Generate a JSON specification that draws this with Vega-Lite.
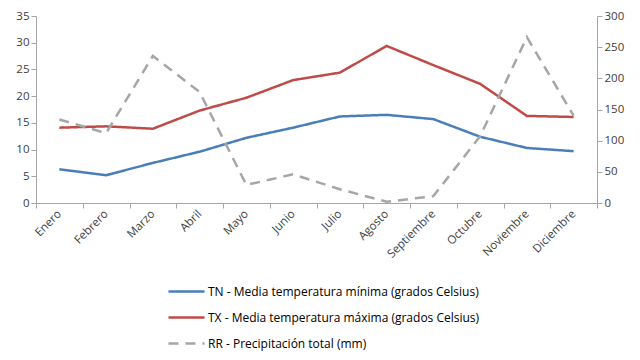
{
  "$schema": "https://vega.github.io/schema/vega-lite/v6.json",
  "autosize": {"type": "none"},
  "width": 561,
  "height": 187,
  "padding": {"left": 36, "top": 16, "right": 43, "bottom": 157},
  "background": "white",
  "config": {
    "view": {"stroke": null},
    "font": "Open Sans",
    "axis": {"grid": false, "domainColor": "#A6A6A6", "tickColor": "#A6A6A6", "labelColor": "#404040", "labelFontSize": 11.5, "labelFont": "Open Sans", "title": null, "tickSize": 5}
  },
  "data": {"values": [
    {"mes": "Enero", "serie": "TN - Media temperatura mínima (grados Celsius)", "valor": 6.3},
    {"mes": "Febrero", "serie": "TN - Media temperatura mínima (grados Celsius)", "valor": 5.2},
    {"mes": "Marzo", "serie": "TN - Media temperatura mínima (grados Celsius)", "valor": 7.5},
    {"mes": "Abril", "serie": "TN - Media temperatura mínima (grados Celsius)", "valor": 9.6},
    {"mes": "Mayo", "serie": "TN - Media temperatura mínima (grados Celsius)", "valor": 12.2},
    {"mes": "Junio", "serie": "TN - Media temperatura mínima (grados Celsius)", "valor": 14.1},
    {"mes": "Julio", "serie": "TN - Media temperatura mínima (grados Celsius)", "valor": 16.2},
    {"mes": "Agosto", "serie": "TN - Media temperatura mínima (grados Celsius)", "valor": 16.5},
    {"mes": "Septiembre", "serie": "TN - Media temperatura mínima (grados Celsius)", "valor": 15.7},
    {"mes": "Octubre", "serie": "TN - Media temperatura mínima (grados Celsius)", "valor": 12.4},
    {"mes": "Noviembre", "serie": "TN - Media temperatura mínima (grados Celsius)", "valor": 10.3},
    {"mes": "Diciembre", "serie": "TN - Media temperatura mínima (grados Celsius)", "valor": 9.7},
    {"mes": "Enero", "serie": "TX - Media temperatura máxima (grados Celsius)", "valor": 14.1},
    {"mes": "Febrero", "serie": "TX - Media temperatura máxima (grados Celsius)", "valor": 14.35},
    {"mes": "Marzo", "serie": "TX - Media temperatura máxima (grados Celsius)", "valor": 13.9},
    {"mes": "Abril", "serie": "TX - Media temperatura máxima (grados Celsius)", "valor": 17.3},
    {"mes": "Mayo", "serie": "TX - Media temperatura máxima (grados Celsius)", "valor": 19.7},
    {"mes": "Junio", "serie": "TX - Media temperatura máxima (grados Celsius)", "valor": 23.0},
    {"mes": "Julio", "serie": "TX - Media temperatura máxima (grados Celsius)", "valor": 24.4},
    {"mes": "Agosto", "serie": "TX - Media temperatura máxima (grados Celsius)", "valor": 29.4},
    {"mes": "Septiembre", "serie": "TX - Media temperatura máxima (grados Celsius)", "valor": 25.8},
    {"mes": "Octubre", "serie": "TX - Media temperatura máxima (grados Celsius)", "valor": 22.3},
    {"mes": "Noviembre", "serie": "TX - Media temperatura máxima (grados Celsius)", "valor": 16.3},
    {"mes": "Diciembre", "serie": "TX - Media temperatura máxima (grados Celsius)", "valor": 16.1},
    {"mes": "Enero", "serie": "RR - Precipitación total (mm)", "valor": 134},
    {"mes": "Febrero", "serie": "RR - Precipitación total (mm)", "valor": 112},
    {"mes": "Marzo", "serie": "RR - Precipitación total (mm)", "valor": 236},
    {"mes": "Abril", "serie": "RR - Precipitación total (mm)", "valor": 178},
    {"mes": "Mayo", "serie": "RR - Precipitación total (mm)", "valor": 29},
    {"mes": "Junio", "serie": "RR - Precipitación total (mm)", "valor": 46},
    {"mes": "Julio", "serie": "RR - Precipitación total (mm)", "valor": 22},
    {"mes": "Agosto", "serie": "RR - Precipitación total (mm)", "valor": 2},
    {"mes": "Septiembre", "serie": "RR - Precipitación total (mm)", "valor": 11},
    {"mes": "Octubre", "serie": "RR - Precipitación total (mm)", "valor": 107},
    {"mes": "Noviembre", "serie": "RR - Precipitación total (mm)", "valor": 266},
    {"mes": "Diciembre", "serie": "RR - Precipitación total (mm)", "valor": 140}
  ]},
  "encoding": {
    "x": {
      "field": "mes", "type": "nominal",
      "sort": ["Enero","Febrero","Marzo","Abril","Mayo","Junio","Julio","Agosto","Septiembre","Octubre","Noviembre","Diciembre"],
      "scale": {"paddingInner": 0, "paddingOuter": 0},
      "axis": {"labelAngle": -45, "tickBand": "extent", "labelAlign": "right", "labelBaseline": "middle", "labelPadding": 4}
    },
    "color": {
      "field": "serie", "type": "nominal", "title": null,
      "scale": {
        "domain": ["TN - Media temperatura mínima (grados Celsius)", "TX - Media temperatura máxima (grados Celsius)", "RR - Precipitación total (mm)"],
        "range": ["#4A7EBB", "#BE4B48", "#A6A6A6"]
      },
      "legend": {
        "orient": "none", "legendX": 131, "legendY": 256, "direction": "vertical", "title": null,
        "symbolType": "stroke", "symbolSize": 1300, "symbolStrokeWidth": 2.5,
        "labelFontSize": 12, "labelColor": "#000000", "labelLimit": 400, "labelOffset": 2, "rowPadding": -13
      }
    },
    "strokeDash": {
      "field": "serie", "type": "nominal", "title": null,
      "scale": {
        "domain": ["TN - Media temperatura mínima (grados Celsius)", "TX - Media temperatura máxima (grados Celsius)", "RR - Precipitación total (mm)"],
        "range": [[1, 0], [1, 0], [10, 7]]
      },
      "legend": {
        "orient": "none", "legendX": 131, "legendY": 256, "direction": "vertical", "title": null,
        "symbolType": "stroke", "symbolSize": 1300, "symbolStrokeWidth": 2.5,
        "labelFontSize": 12, "labelColor": "#000000", "labelLimit": 400, "labelOffset": 2, "rowPadding": -13
      }
    }
  },
  "layer": [
    {
      "transform": [{"filter": "datum.serie !== 'RR - Precipitación total (mm)'"}],
      "mark": {"type": "line", "strokeWidth": 2.5},
      "encoding": {
        "y": {"field": "valor", "type": "quantitative", "scale": {"domain": [0, 35], "nice": false}, "axis": {"values": [0,5,10,15,20,25,30,35], "orient": "left"}}
      }
    },
    {
      "transform": [{"filter": "datum.serie === 'RR - Precipitación total (mm)'"}],
      "mark": {"type": "line", "strokeWidth": 2.5},
      "encoding": {
        "y": {"field": "valor", "type": "quantitative", "scale": {"domain": [0, 300], "nice": false}, "axis": {"values": [0,50,100,150,200,250,300], "orient": "right"}}
      }
    }
  ],
  "resolve": {"scale": {"y": "independent"}}
}
